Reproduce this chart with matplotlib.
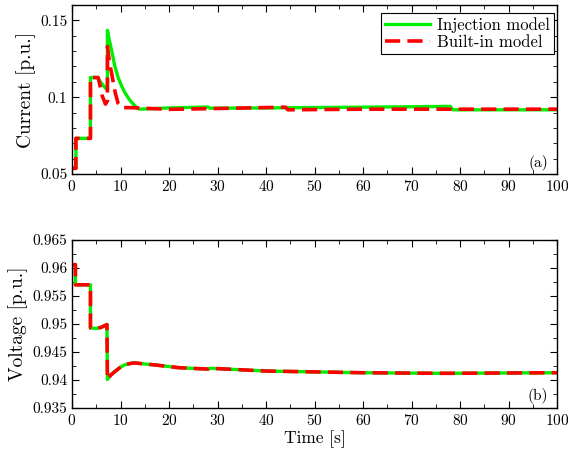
import numpy as np
import matplotlib
matplotlib.use('Agg')
import matplotlib.pyplot as plt
from matplotlib.ticker import MultipleLocator, FuncFormatter

plt.rcParams['font.family'] = 'serif'
plt.rcParams['font.serif'] = ['cmr10']
plt.rcParams['mathtext.fontset'] = 'cm'
plt.rcParams['axes.formatter.use_mathtext'] = True

# --- Current [p.u.], injection model ---
t_cur_inj = [0, 0.8, 0.8, 3.8, 3.8, 5.2, 6.2, 7.3, 7.3, 7.7, 8.2, 8.8, 9.5, 10.2,
             10.9, 11.6, 12.3, 13.3, 13.9, 20, 28, 28.5, 40, 60, 78, 78.5, 100]
i_cur_inj = [0.0537, 0.0537, 0.0732, 0.0732, 0.1128, 0.1128, 0.1085, 0.1045, 0.1435,
             0.137, 0.130, 0.1205, 0.1128, 0.1075, 0.1030, 0.0995, 0.0966, 0.0933,
             0.0922, 0.0930, 0.0936, 0.0928, 0.0930, 0.0935, 0.0940, 0.0918, 0.0918]

# --- Current [p.u.], built-in model ---
t_cur_blt = [0, 0.8, 0.8, 3.8, 3.8, 5.4, 6.2, 6.9, 7.3, 7.3, 7.7, 8.2, 8.9, 9.5,
             10.3, 12, 20, 26, 36, 44, 44.5, 60, 100]
i_cur_blt = [0.0537, 0.0537, 0.0732, 0.0732, 0.1128, 0.1128, 0.1010, 0.0955, 0.0975,
             0.1330, 0.1230, 0.1150, 0.1030, 0.0960, 0.0932, 0.0932, 0.0921, 0.0924,
             0.0930, 0.0935, 0.0918, 0.0922, 0.0922]

# --- Voltage [p.u.], both models ---
t_volt = [0, 0.7, 0.7, 3.8, 3.8, 5.0, 6.0, 7.2, 7.3, 8.0, 8.9, 10.0, 10.9, 12.0,
          12.9, 14.0, 17, 22, 28, 28.5, 40, 60, 75, 78, 100]
v_inj = [0.9606, 0.9606, 0.9570, 0.9570, 0.9493, 0.9492, 0.9494, 0.9499, 0.9401,
         0.9409, 0.94155, 0.9423, 0.94273, 0.94295, 0.94305, 0.94295, 0.9427, 0.9422,
         0.94195, 0.9421, 0.9416, 0.9413, 0.9412, 0.9412, 0.9413]
v_blt = v_inj

green = '#00ee00'
red = '#ff0000'


def style_axes(ax):
    ax.tick_params(which='both', direction='in', top=True, right=True, labelsize=11)
    ax.tick_params(which='major', length=5, width=0.8)
    ax.tick_params(which='minor', length=3, width=0.6)
    ax.set_xlim(0, 100)
    ax.xaxis.set_major_locator(MultipleLocator(10))
    ax.xaxis.set_minor_locator(MultipleLocator(5))
    ax.yaxis.set_major_formatter(FuncFormatter(lambda v, p: '%g' % round(v, 4)))
    for s in ax.spines.values():
        s.set_linewidth(1.0)


fig = plt.figure(figsize=(5.68, 4.59), dpi=100)
ax1 = fig.add_axes([0.1268, 0.6209, 0.8539, 0.3682])
ax2 = fig.add_axes([0.1268, 0.1111, 0.8539, 0.3660])

ax1.plot(t_cur_inj, i_cur_inj, color=green, lw=2.4, label='Injection model')
ax1.plot(t_cur_blt, i_cur_blt, color=red, lw=2.6, dashes=(4.2, 2.0), label='Built-in model')
style_axes(ax1)
ax1.set_ylim(0.05, 0.16)
ax1.yaxis.set_major_locator(MultipleLocator(0.05))
ax1.yaxis.set_minor_locator(MultipleLocator(0.01))
ax1.set_ylabel('Current [p.u.]', fontsize=14, labelpad=3)
ax1.text(0.961, 0.065, '(a)', transform=ax1.transAxes, fontsize=11, ha='center', va='center')
leg = ax1.legend(loc='upper right', bbox_to_anchor=(0.993, 0.955), fontsize=12,
                 handlelength=2.7, borderpad=0.25, labelspacing=0.1, handletextpad=0.4,
                 fancybox=False, framealpha=1, edgecolor='black', borderaxespad=0)
leg.get_frame().set_linewidth(0.8)

ax2.plot(t_volt, v_inj, color=green, lw=2.4)
ax2.plot(t_volt, v_blt, color=red, lw=2.6, dashes=(4.2, 2.0))
style_axes(ax2)
ax2.set_ylim(0.935, 0.965)
ax2.yaxis.set_major_locator(MultipleLocator(0.005))
ax2.yaxis.set_minor_locator(MultipleLocator(0.0025))
ax2.set_ylabel('Voltage [p.u.]', fontsize=14, labelpad=3)
ax2.set_xlabel('Time [s]', fontsize=12.5, labelpad=2)
ax2.text(0.961, 0.071, '(b)', transform=ax2.transAxes, fontsize=11, ha='center', va='center')

fig.savefig('out.png', dpi=100)
